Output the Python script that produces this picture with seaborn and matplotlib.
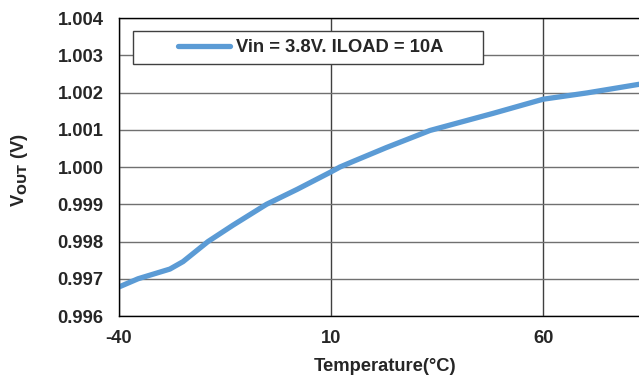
import numpy as np
import pandas as pd
import matplotlib
matplotlib.use("Agg")
import matplotlib.pyplot as plt
from matplotlib.patches import Rectangle
import seaborn as sns

# -----------------------------
# Data
# -----------------------------
temperature = [-40, -35.5, -28, -24.9, -19, -13.1, -5.2, 2.0, 10, 12.1,
               15.2, 23, 33.3, 38.8, 48.2, 60, 70.4, 82.6]
vout = [0.99678, 0.99700, 0.99726, 0.99746, 0.99800, 0.99844, 0.99900, 0.99940,
        0.99987, 1.00000, 1.00015, 1.00052, 1.00098, 1.00115, 1.00144, 1.00182,
        1.00199, 1.00222]
series_label = "Vin = 3.8V. ILOAD = 10A"
x_ticks = [-40, 10, 60]
y_ticks = [0.996, 0.997, 0.998, 0.999, 1.000, 1.001, 1.002, 1.003, 1.004]

df = pd.DataFrame({"Temperature": temperature, "Vout": vout})

# -----------------------------
# Style
# -----------------------------
sns.set_style("white")
plt.rcParams["font.family"] = ["Liberation Sans", "DejaVu Sans"]
plt.rcParams["font.weight"] = "bold"
plt.rcParams["mathtext.default"] = "bf"
plt.rcParams["axes.unicode_minus"] = False

fs = 13.2

fig = plt.figure(figsize=(6.39, 3.79), dpi=100)
ax = fig.add_axes([0.1862, 0.1662, 0.8138, 0.7863])

sns.lineplot(data=df, x="Temperature", y="Vout", ax=ax, color="#5B9BD5",
             linewidth=3.8, label=series_label, solid_capstyle="round")

ax.set_xlim(-40, 82.6)
ax.set_ylim(0.996, 1.004)
ax.set_xticks(x_ticks)
ax.set_yticks(y_ticks)
ax.set_yticklabels([f"{v:.3f}" for v in y_ticks])
ax.tick_params(axis="both", length=0, labelsize=fs)
ax.tick_params(axis="y", pad=11)
ax.tick_params(axis="x", pad=10)

ax.set_axisbelow(True)
ax.grid(True, axis="y", color="#707070", linewidth=1.0)
ax.grid(True, axis="x", color="#404040", linewidth=1.0)

for side in ["left", "bottom", "top"]:
    ax.spines[side].set_color("black")
    ax.spines[side].set_linewidth(1.0)
ax.spines["right"].set_visible(False)

ax.set_xlabel("Temperature(°C)", fontsize=fs, fontweight="bold")
ax.xaxis.set_label_coords(0.512, -0.14)
ax.set_ylabel(r"V$_{OUT}$ (V)", fontsize=fs, fontweight="bold")
ax.yaxis.set_label_coords(-0.172, 0.49)

# legend box drawn as a patch, legend itself without frame
ax.add_patch(Rectangle((0.0269, 0.8456), 0.673, 0.1107, transform=ax.transAxes,
                       facecolor="white", edgecolor="#404040", linewidth=1.0,
                       zorder=3))
leg = ax.legend(loc="center left", bbox_to_anchor=(0.1135, 0.901), frameon=False,
                borderpad=0, borderaxespad=0, handlelength=2.85,
                handletextpad=0.33, prop={"size": fs, "weight": "bold"})
leg.set_zorder(4)

fig.savefig("out.png", dpi=100)
